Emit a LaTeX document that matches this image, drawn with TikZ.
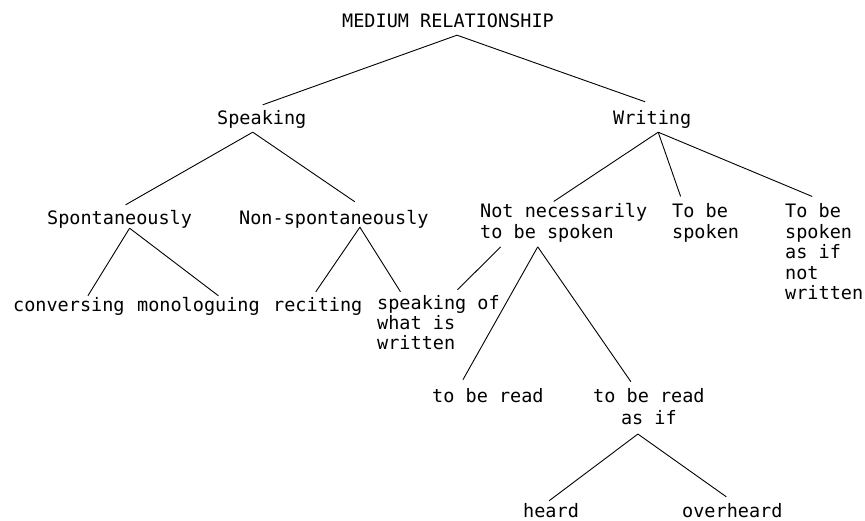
\documentclass[tikz,border=0pt]{standalone}
\usepackage{fontspec}
\newfontfamily\twfont{DejaVu Sans Mono}
\begin{document}
\begin{tikzpicture}[x=1bp,y=-1bp,
  lbl/.style={inner xsep=0pt,inner ysep=2pt,text height=14bp,text depth=5bp,anchor=base west,
    font=\twfont\fontsize{18.5bp}{20.5bp}\selectfont},
  mlbl/.style={inner xsep=0pt,inner ysep=2pt,anchor=base west,
    font=\twfont\fontsize{18.5bp}{20.5bp}\selectfont},
  edge/.style={draw=black,line width=0.9bp}]
\useasboundingbox[fill=white] (0,0) rectangle (865,521);

\node[lbl] (root) at (342,28) {MEDIUM RELATIONSHIP};
\node[lbl] (spk) at (217,125) {Speaking};
\node[lbl] (wrt) at (613,125) {Writing};
\node[lbl] (spon) at (47,225) {Spontaneously};
\node[lbl] (nonspon) at (239,225) {Non-spontaneously};
\node[lbl] (conv) at (13,312) {conversing};
\node[lbl] (mono) at (137,312) {monologuing};
\node[lbl] (reci) at (273,312) {reciting};
\node[mlbl] (spkwr) at (377,310) {\renewcommand\arraystretch{0.9}\begin{tabular}[t]{@{}l@{}}speaking of\\what is\\written\end{tabular}};
\node[mlbl] (notnec) at (480,218) {\begin{tabular}[t]{@{}l@{}}Not necessarily\\to be spoken\end{tabular}};
\node[mlbl] (tobe) at (672,218) {\begin{tabular}[t]{@{}l@{}}To be\\spoken\end{tabular}};
\node[mlbl] (asifnot) at (785,218) {\begin{tabular}[t]{@{}l@{}}To be\\spoken\\as if\\not\\written\end{tabular}};
\node[lbl] (read) at (432,402) {to be read};
\node[mlbl] (readasif) at (593,402) {\renewcommand\arraystretch{1.12}\begin{tabular}[t]{@{}c@{}}to be read\\as if\end{tabular}};
\node[lbl] (heard) at (523,517) {heard};
\node[lbl] (over) at (682,517) {overheard};

\draw[edge] ([xshift=9bp]root.south) -- ([xshift=1bp,yshift=4bp]spk.north);
\draw[edge] ([xshift=9bp]root.south) -- ([xshift=-7bp,yshift=7bp]wrt.north);
\draw[edge] ([xshift=-9bp]spk.south) -- ([xshift=6bp,yshift=4bp]spon.north);
\draw[edge] ([xshift=-9bp]spk.south) -- ([xshift=21bp,yshift=7bp]nonspon.north);
\draw[edge] ([xshift=6bp]wrt.south) -- ([xshift=-10bp]notnec.north);
\draw[edge] ([xshift=6bp]wrt.south) -- ([xshift=-25bp,yshift=5bp]tobe.north);
\draw[edge] ([xshift=6bp]wrt.south) -- ([xshift=-12bp,yshift=5bp]asifnot.north);
\draw[edge] ([xshift=10bp,yshift=4bp]spon.south) -- ([xshift=19bp]conv.north);
\draw[edge] ([xshift=10bp,yshift=4bp]spon.south) -- ([xshift=20bp]mono.north);
\draw[edge] ([xshift=26bp,yshift=5bp]nonspon.south) -- ([xshift=-2bp,yshift=4bp]reci.north);
\draw[edge] ([xshift=26bp,yshift=5bp]nonspon.south) -- ([xshift=-38bp,yshift=2bp]spkwr.north);
\draw[edge] ([xshift=-63bp]notnec.south) -- ([xshift=19bp,yshift=4bp]spkwr.north);
\draw[edge] ([xshift=-26bp]notnec.south) -- ([xshift=-25bp,yshift=6bp]read.north);
\draw[edge] ([xshift=-26bp]notnec.south) -- ([xshift=-18bp,yshift=2bp]readasif.north);
\draw[edge] ([xshift=-11bp]readasif.south) -- ([xshift=-2bp]heard.north);
\draw[edge] ([xshift=-11bp]readasif.south) -- ([xshift=-6bp,yshift=4bp]over.north);
\end{tikzpicture}
\end{document}
